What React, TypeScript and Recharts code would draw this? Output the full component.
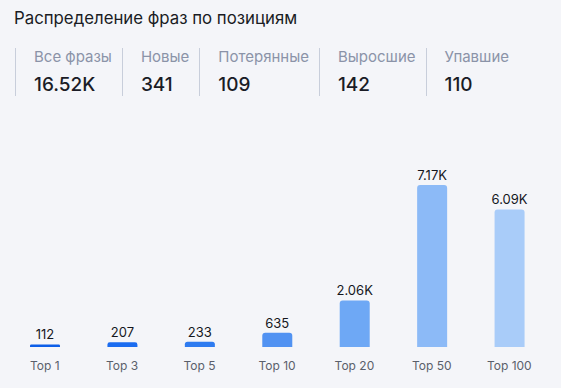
import React from "react";
import { BarChart, Bar, XAxis, YAxis, LabelList, Cell } from "recharts";

const categories = ["Top 1", "Top 3", "Top 5", "Top 10", "Top 20", "Top 50", "Top 100"];
const values = [112, 207, 233, 635, 2060, 7170, 6090];
const barColors = ["#0c5ee8", "#1b6cf0", "#2e7bf0", "#5192f2", "#6ea8f5", "#8cbaf7", "#a9ccf9"];

const statLabels = ["Все фразы", "Новые", "Потерянные", "Выросшие", "Упавшие"];
const statValues = ["16.52K", "341", "109", "142", "110"];

const data = categories.map((c, i) => ({ name: c, value: values[i] }));

const fmt = (v: number) => (v >= 1000 ? (v / 1000).toFixed(2) + "K" : String(v));

const FONT = "Inter, 'Noto Sans', sans-serif";

export default function App() {
  return (
    <div
      style={{
        position: "absolute",
        left: 0,
        top: 0,
        width: 561,
        height: 388,
        background: "#f4f5f9",
        fontFamily: FONT,
        overflow: "hidden",
      }}
    >
      <div
        style={{
          position: "absolute",
          left: 14,
          top: 7,
          fontSize: 16.8,
          color: "#1a1c24",
          lineHeight: "22px",
        }}
      >
        Распределение фраз по позициям
      </div>
      <div style={{ position: "absolute", left: 15, top: 48, display: "flex" }}>
        {statLabels.map((l, i) => (
          <div
            key={l}
            style={{
              borderLeft: "1px solid #c8cedb",
              paddingLeft: 18,
              paddingRight: 10,
              height: 48,
            }}
          >
            <div style={{ fontSize: 15, color: "#8b93a8", lineHeight: "18px", marginTop: 0 }}>{l}</div>
            <div style={{ fontSize: 19, fontWeight: 500, color: "#1a1c26", lineHeight: "24px", marginTop: 7 }}>
              {statValues[i]}
            </div>
          </div>
        ))}
      </div>
      <div style={{ position: "absolute", left: 0, top: 150 }}>
        <BarChart
          width={561}
          height={238}
          data={data}
          margin={{ top: 35, right: 13, bottom: 11, left: 6 }}
          barCategoryGap={0}
        >
          <XAxis
            dataKey="name"
            axisLine={false}
            tickLine={false}
            tickSize={0}
            tickMargin={14}
            height={30}
            tick={{ fontSize: 12, fill: "#5a5f6b", fontFamily: FONT }}
            interval={0}
          />
          <YAxis hide domain={[0, 7170]} />
          <Bar dataKey="value" barSize={30} radius={[3, 3, 0, 0]} isAnimationActive={false}>
            {data.map((d, i) => (
              <Cell key={d.name} fill={barColors[i]} />
            ))}
            <LabelList
              dataKey="value"
              position="top"
              offset={5}
              formatter={(v: any) => fmt(Number(v))}
              style={{ fontSize: 13, fill: "#15171d", fontFamily: FONT }}
            />
          </Bar>
        </BarChart>
      </div>
    </div>
  );
}
